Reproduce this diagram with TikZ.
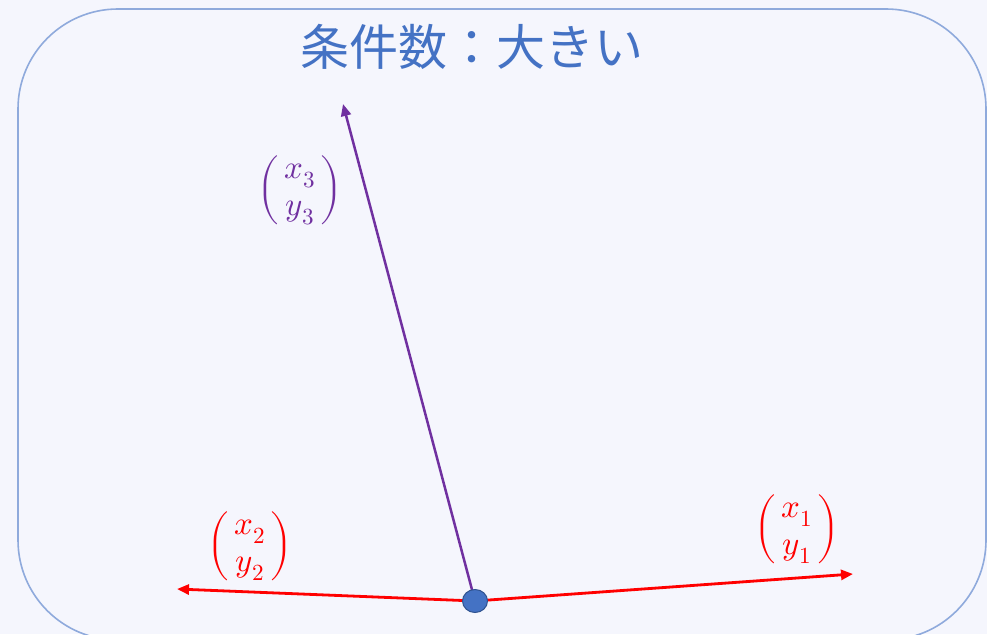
\documentclass[tikz,border=0pt]{standalone}
\usepackage{amsmath}
\usepackage{fontspec}
\usepackage{unicode-math}
\setmathfont{Latin Modern Math}
\newfontfamily\cjk{Noto Sans CJK JP}
\usetikzlibrary{arrows.meta,shapes.geometric}
\definecolor{bgc}{HTML}{F5F6FD}
\definecolor{boxc}{HTML}{8FAADC}
\definecolor{titlec}{HTML}{4472C4}
\definecolor{dotc}{HTML}{4472C4}
\definecolor{dotb}{HTML}{2F528F}
\definecolor{purp}{HTML}{7030A0}
\newcommand{\myvec}[2]{$\left(\begin{array}{@{\,}c@{\,}}#1\\#2\end{array}\right)$}
\tikzset{
  vecred/.style={draw=red, line width=2.8pt, -{Triangle[length=12pt,width=10pt]}},
  vecpurp/.style={draw=purp, line width=2.5pt, -{Triangle[length=12pt,width=10pt]}},
  lbl/.style={font=\fontsize{33}{37}\selectfont, inner sep=0pt},
}
\begin{document}
\begin{tikzpicture}[x=1pt,y=-1pt]
\fill[bgc] (0,0) rectangle (987,634);
\useasboundingbox (0,0) rectangle (987,634);
\begin{scope}
\clip (0,0) rectangle (987,634);
\draw[boxc, line width=1.6pt, rounded corners=100pt] (18,9) rectangle (986,640);
\end{scope}
\node[text=titlec, font=\cjk\fontsize{49}{54}\selectfont, inner sep=0pt] (title) at (472,47) {条件数：大きい};
\coordinate (o) at (475,601);
\coordinate (e1) at (853,574);
\coordinate (e2) at (177,589);
\coordinate (e3) at (343,104);
\draw[vecpurp] (o) -- (e3);
\draw[vecred] (o) -- (e1);
\draw[vecred] (o) -- (e2);
\node[draw=dotb, fill=dotc, line width=1pt, ellipse, minimum width=25pt, minimum height=23pt, inner sep=0pt] (dot) at (o) {};
\node[lbl, text=purp] (v3) at (300,190) {\myvec{x_3}{y_3}};
\node[lbl, text=red] (v2) at (250,546) {\myvec{x_2}{y_2}};
\node[lbl, text=red] (v1) at (797,529) {\myvec{x_1}{y_1}};
\end{tikzpicture}
\end{document}
